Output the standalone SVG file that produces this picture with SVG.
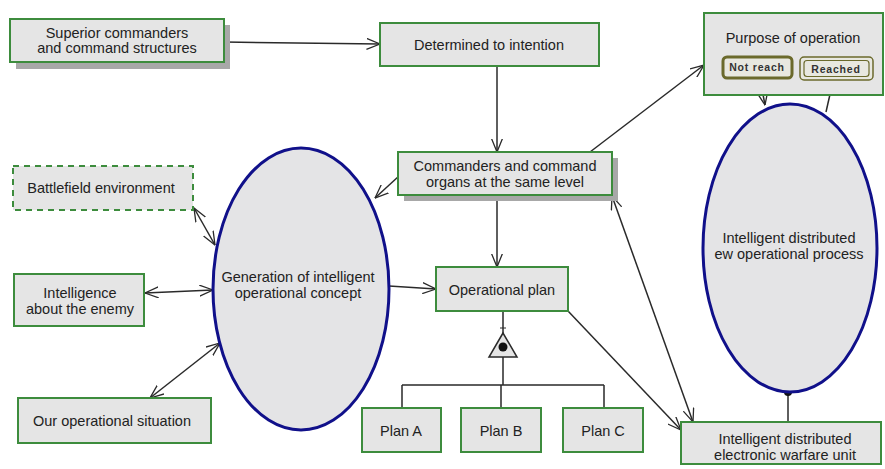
<svg xmlns="http://www.w3.org/2000/svg" width="885" height="469" viewBox="0 0 885 469">
<defs>
<style>
.box{fill:#e5e5e5;stroke:#3d8c3d;stroke-width:2}
.dash{fill:#e5e5e5;stroke:#3d8c3d;stroke-width:2;stroke-dasharray:6,5}
.shadow{fill:#a8a8a8}
.ell{fill:#e4e4e6;stroke:#10108a;stroke-width:3}
.t{font-family:"Liberation Sans",Arial,sans-serif;font-size:14.5px;fill:#222;text-anchor:middle}
.s{font-family:"Liberation Sans",Arial,sans-serif;font-size:10.5px;font-weight:bold;letter-spacing:0.8px;fill:#333;text-anchor:middle}
.c{fill:none;stroke:#2a2a2a;stroke-width:1.5}
.st{fill:#e8e8e0;stroke:#6b6a2c}
</style>
<marker id="arr" viewBox="0 0 14 12" refX="13.5" refY="6" markerWidth="14" markerHeight="12" markerUnits="userSpaceOnUse" orient="auto-start-reverse">
<path d="M0,0.5 L13.5,6 L0,11.5" fill="none" stroke="#2a2a2a" stroke-width="1.3"/>
</marker>
</defs>

<g id="connectors">
<line class="c" x1="224" y1="42" x2="380" y2="44" marker-end="url(#arr)"/>
<line class="c" x1="497" y1="66" x2="497" y2="152" marker-end="url(#arr)"/>
<line class="c" x1="399" y1="176" x2="375" y2="198" marker-end="url(#arr)"/>
<line class="c" x1="590" y1="152" x2="704" y2="65" marker-end="url(#arr)"/>
<line class="c" x1="612" y1="196" x2="693" y2="422" marker-start="url(#arr)" marker-end="url(#arr)"/>
<line class="c" x1="497" y1="197" x2="497" y2="267" marker-end="url(#arr)"/>
<line class="c" x1="389" y1="286" x2="436" y2="289" marker-end="url(#arr)"/>
<line class="c" x1="568" y1="311" x2="681" y2="430" marker-end="url(#arr)"/>
<line class="c" x1="194" y1="208" x2="215" y2="245" marker-start="url(#arr)" marker-end="url(#arr)"/>
<line class="c" x1="145" y1="293" x2="213" y2="290" marker-start="url(#arr)" marker-end="url(#arr)"/>
<line class="c" x1="150" y1="398" x2="220" y2="343" marker-start="url(#arr)" marker-end="url(#arr)"/>
<line class="c" x1="760" y1="79" x2="765" y2="105" marker-end="url(#arr)"/>
<line class="c" x1="826" y1="112" x2="833" y2="81" marker-end="url(#arr)"/>
<line class="c" x1="788" y1="392" x2="788" y2="422"/>
<circle cx="788" cy="392" r="4" fill="#111"/>
<path class="c" d="M503,311 V333 M503,357 V385 M402,385 H604 M402,385 V408 M501,385 V408 M604,385 V408"/>
<line x1="500" y1="328" x2="506" y2="328" stroke="#2a2a2a" stroke-width="1"/>
<polygon points="503,333 489,357 517,357" fill="#e5e5e5" stroke="#2a2a2a" stroke-width="1.5"/>
<circle cx="503" cy="347" r="4.5" fill="#111"/>
</g>

<g id="superior">
<rect class="shadow" x="16" y="25" width="214" height="44"/>
<rect class="box" x="10" y="19" width="214" height="43"/>
<text class="t" x="117" y="38">Superior commanders</text>
<text class="t" x="117" y="53">and command structures</text>
</g>

<g id="determined">
<rect class="box" x="380" y="23" width="219" height="43"/>
<text class="t" x="489" y="50">Determined to intention</text>
</g>

<g id="commanders">
<rect class="shadow" x="404" y="158" width="214" height="43"/>
<rect class="box" x="398" y="152" width="214" height="43"/>
<text class="t" x="505" y="171">Commanders and command</text>
<text class="t" x="505" y="187">organs at the same level</text>
</g>

<g id="purpose">
<rect class="box" x="704" y="13" width="179" height="82"/>
<text class="t" x="793" y="43">Purpose of operation</text>
<rect class="st" x="723" y="57" width="69" height="21" rx="4" stroke-width="3"/>
<text class="s" x="757" y="71">Not reach</text>
<rect class="st" x="800" y="57" width="73" height="23" rx="4" stroke-width="1.5"/>
<rect x="804" y="60.5" width="65" height="16" rx="3" fill="none" stroke="#6b6a2c" stroke-width="1.2"/>
<text class="s" x="836" y="72.5">Reached</text>
</g>

<g id="battlefield">
<rect class="dash" x="13" y="166" width="180" height="44"/>
<text class="t" x="101" y="193">Battlefield environment</text>
</g>

<g id="intelligence">
<rect class="box" x="14" y="274" width="130" height="52"/>
<text class="t" x="80" y="298">Intelligence</text>
<text class="t" x="80" y="314">about the enemy</text>
</g>

<g id="situation">
<rect class="box" x="18" y="398" width="193" height="45"/>
<text class="t" x="112" y="426">Our operational situation</text>
</g>

<g id="generation">
<ellipse class="ell" cx="301" cy="289" rx="88" ry="141"/>
<text class="t" x="298" y="282">Generation of intelligent</text>
<text class="t" x="298" y="298">operational concept</text>
</g>

<g id="opplan">
<rect class="box" x="436" y="267" width="132" height="44"/>
<text class="t" x="502" y="295">Operational plan</text>
</g>

<g id="planA">
<rect class="box" x="362" y="408" width="79" height="44"/>
<text class="t" x="401" y="436">Plan A</text>
</g>
<g id="planB">
<rect class="box" x="461" y="408" width="80" height="44"/>
<text class="t" x="501" y="436">Plan B</text>
</g>
<g id="planC">
<rect class="box" x="563" y="408" width="80" height="44"/>
<text class="t" x="603" y="436">Plan C</text>
</g>

<g id="ewprocess">
<ellipse class="ell" cx="790" cy="248" rx="87" ry="144"/>
<text class="t" x="789" y="243">Intelligent distributed</text>
<text class="t" x="789" y="259">ew operational process</text>
</g>

<g id="ewunit">
<rect class="box" x="681" y="422" width="200" height="42"/>
<text class="t" x="785" y="444">Intelligent distributed</text>
<text class="t" x="785" y="460">electronic warfare unit</text>
</g>
</svg>
